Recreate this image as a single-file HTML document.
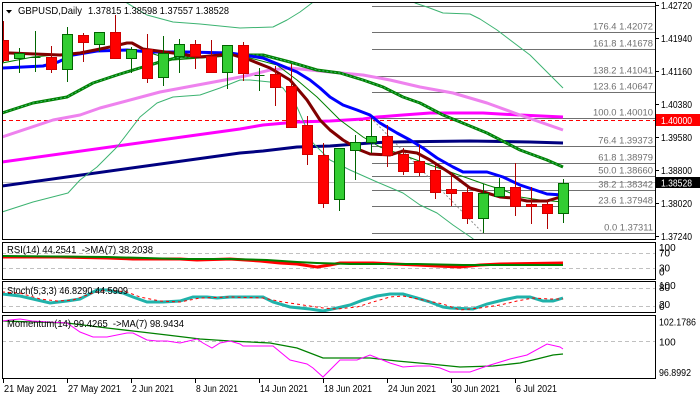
<!DOCTYPE html>
<html><head><meta charset="utf-8"><style>
html,body{margin:0;padding:0;background:#fff;}
svg{display:block;font-family:"Liberation Sans",sans-serif;}
text{white-space:pre;}
</style></head><body>
<svg width="700" height="400" viewBox="0 0 700 400" xmlns="http://www.w3.org/2000/svg">
<defs>
<clipPath id="cm"><rect x="3" y="3" width="652" height="236"/></clipPath>
<clipPath id="cr"><rect x="3" y="243" width="652" height="36"/></clipPath>
<clipPath id="cs"><rect x="3" y="282" width="652" height="30"/></clipPath>
<clipPath id="cmo"><rect x="3" y="316" width="652" height="62"/></clipPath>
</defs>
<rect width="700" height="400" fill="#fff"/>

<!-- MAIN PANEL -->
<g clip-path="url(#cm)">
  <!-- bid line -->
  <line x1="2" y1="182.5" x2="655" y2="182.5" stroke="#c0c0c0" stroke-width="1"/>
  <!-- fib lines -->
  <g stroke="#707070" stroke-width="1">
    <line x1="372" y1="6.5" x2="655" y2="6.5"/>
    <line x1="372" y1="32.5" x2="655" y2="32.5"/>
    <line x1="372" y1="49.5" x2="655" y2="49.5"/>
    <line x1="372" y1="76.5" x2="655" y2="76.5"/>
    <line x1="372" y1="92.5" x2="655" y2="92.5"/>
    <line x1="372" y1="118.5" x2="655" y2="118.5"/>
    <line x1="372" y1="146.5" x2="655" y2="146.5"/>
    <line x1="372" y1="163.5" x2="655" y2="163.5"/>
    <line x1="372" y1="176.5" x2="655" y2="176.5"/>
    <line x1="372" y1="190.5" x2="655" y2="190.5"/>
    <line x1="372" y1="206.5" x2="655" y2="206.5"/>
    <line x1="372" y1="233.5" x2="655" y2="233.5"/>
  </g>
  <line x1="371" y1="118" x2="483" y2="233" stroke="#909090" stroke-width="1" stroke-dasharray="2,2"/>
  <g fill="#707070" font-size="9.4" text-anchor="end">
    <text x="653" y="3">200.0 1.42709</text>
    <text x="653" y="29.5">176.4 1.42072</text>
    <text x="653" y="46.5">161.8 1.41678</text>
    <text x="653" y="73.5">138.2 1.41041</text>
    <text x="653" y="89.5">123.6 1.40647</text>
    <text x="653" y="115.5">100.0 1.40010</text>
    <text x="653" y="143.5">76.4 1.39373</text>
    <text x="653" y="160.5">61.8 1.38979</text>
    <text x="653" y="173.5">50.0 1.38660</text>
    <text x="653" y="187.5">38.2 1.38342</text>
    <text x="653" y="203.5">23.6 1.37948</text>
    <text x="653" y="230.5">0.0 1.37311</text>
  </g>
  <!-- red dashed 1.40000 -->
  <line x1="2" y1="120.5" x2="655" y2="120.5" stroke="#ff0000" stroke-width="1" stroke-dasharray="4,3"/>

  <!-- MAs -->
  <g fill="none" stroke-linejoin="round">
    <!-- navy -->
    <polyline stroke="#000080" stroke-width="3" points="2,186 240,153 263,151 297,147 330,146 370,143 390,142 470,141 530,142 563,143"/>
    <!-- magenta -->
    <polyline stroke="#ff00ff" stroke-width="3" points="2,162 240,129 263,125 297,122 330,121 363,119 377,117 403,115 430,113 483,113 500,114 520,115 563,117"/>
    <!-- violet -->
    <polyline stroke="#ee82ee" stroke-width="3" points="2,137 53,120 80,115 100,108 160,92 230,79 250,75 270,70 290,68 310,70 330,72 363,75 390,80 420,87 453,93 487,103 520,115 563,130"/>
    <!-- BB upper -->
    <polyline stroke="#3cb371" stroke-width="1" points="118,-2 127,3 147,15 173,22 200,24 240,28 273,27 287,20 300,12 312,3 316,-2"/>
    <polyline stroke="#3cb371" stroke-width="1" points="411,-2 415,3 427,7 443,13 470,14 480,19 497,30 530,55 563,88"/>
    <!-- BB lower -->
    <polyline stroke="#3cb371" stroke-width="1" points="2,212 33,202 68,193 80,180 97,167 117,147 140,117 157,103 173,97 200,95 220,88 240,80 250,80 270,82 283,88 297,107 313,143 330,160 350,170 377,182 403,193 420,205 437,213 453,225 472,238 480,245"/>
    <!-- thick green -->
    <polyline stroke="#008000" stroke-width="3" points="2,113 33,103 67,97 93,83 117,75 143,67 160,62 180,57 200,57 230,55 263,55 290,62 317,70 340,73 363,80 383,87 403,97 420,103 443,115 470,126 487,133 520,150 547,160 563,167"/>
    <polyline stroke="#3cb371" stroke-width="1" stroke-dasharray="2,2" points="2,113 33,103 67,97 93,83 117,75 143,67 160,62 180,57 200,57 230,55 263,55 290,62 317,70 340,73 363,80 383,87 403,97 420,103 443,115 470,126 487,133 520,150 547,160 563,167"/>
    <!-- thin dark green -->
    <polyline stroke="#008000" stroke-width="1" points="2,63 33,57 110,50 127,50 147,52 173,60 200,58 240,55 250,58 277,65 297,80 317,97 340,120 363,137 380,147 403,155 430,165 453,173 487,185 503,190 520,197 540,200 563,202"/>
    <!-- blue -->
    <polyline stroke="#0000ff" stroke-width="3" points="2,68 43,66 58,62 73,55 97,51 127,50 150,52 187,52 230,53 263,58 280,65 297,72 310,80 320,88 330,97 343,105 357,110 370,115 380,123 397,133 410,140 423,148 437,158 453,167 463,172 487,172 503,177 520,185 547,194 563,195"/>
    <!-- brown -->
    <polyline stroke="#800000" stroke-width="3" points="2,53 10,53 60,55 80,53 100,49 110,47 127,43 132,43 143,49 173,53 200,57 230,54 250,60 270,68 290,80 307,100 320,120 330,130 343,140 360,150 370,154 390,155 403,151 417,153 430,160 450,173 470,188 487,193 500,197 513,198 527,201 547,201 557,198 563,197"/>
  </g>

  <!-- CANDLES -->
  <g stroke-width="1" shape-rendering="crispEdges">
    <!-- wicks bear -->
    <g stroke="#b00000">
      <line x1="3.5" y1="21" x2="3.5" y2="62"/>
      <line x1="51.5" y1="46" x2="51.5" y2="73"/>
      <line x1="83.5" y1="33" x2="83.5" y2="62"/>
      <line x1="115.5" y1="15" x2="115.5" y2="58"/>
      <line x1="147.5" y1="34" x2="147.5" y2="83"/>
      <line x1="195.5" y1="40" x2="195.5" y2="69"/>
      <line x1="211.5" y1="40" x2="211.5" y2="72"/>
      <line x1="243.5" y1="42" x2="243.5" y2="81"/>
      <line x1="275.5" y1="66" x2="275.5" y2="106"/>
      <line x1="291.5" y1="64" x2="291.5" y2="128"/>
      <line x1="307.5" y1="116" x2="307.5" y2="165"/>
      <line x1="323.5" y1="143" x2="323.5" y2="208"/>
      <line x1="387.5" y1="125" x2="387.5" y2="167"/>
      <line x1="403.5" y1="148" x2="403.5" y2="175"/>
      <line x1="419.5" y1="145" x2="419.5" y2="176"/>
      <line x1="435.5" y1="165" x2="435.5" y2="199"/>
      <line x1="451.5" y1="173" x2="451.5" y2="206"/>
      <line x1="467.5" y1="188" x2="467.5" y2="224"/>
      <line x1="515.5" y1="163" x2="515.5" y2="216"/>
      <line x1="531.5" y1="187" x2="531.5" y2="224"/>
      <line x1="547.5" y1="201" x2="547.5" y2="229"/>
    </g>
    <!-- wicks bull -->
    <g stroke="#006400">
      <line x1="19.5" y1="48" x2="19.5" y2="73"/>
      <line x1="35.5" y1="31" x2="35.5" y2="72"/>
      <line x1="67.5" y1="27" x2="67.5" y2="82"/>
      <line x1="99.5" y1="32" x2="99.5" y2="52"/>
      <line x1="131.5" y1="47" x2="131.5" y2="73"/>
      <line x1="163.5" y1="36" x2="163.5" y2="86"/>
      <line x1="179.5" y1="39" x2="179.5" y2="73"/>
      <line x1="227.5" y1="45" x2="227.5" y2="89"/>
      <line x1="259.5" y1="68" x2="259.5" y2="91"/>
      <line x1="339.5" y1="148" x2="339.5" y2="211"/>
      <line x1="355.5" y1="135" x2="355.5" y2="180"/>
      <line x1="371.5" y1="118" x2="371.5" y2="153"/>
      <line x1="483.5" y1="184" x2="483.5" y2="233"/>
      <line x1="499.5" y1="178" x2="499.5" y2="196"/>
      <line x1="563.5" y1="179" x2="563.5" y2="223"/>
      <line x1="30.5" y1="57.5" x2="40.5" y2="57.5"/>
      <line x1="254.5" y1="75.5" x2="264.5" y2="75.5"/>
    </g>
    <!-- bear bodies -->
    <g fill="#ff0000" stroke="#d00000">
      <rect x="-1.5" y="40.5" width="10" height="20"/>
      <rect x="46.5" y="57.5" width="10" height="12"/>
      <rect x="78.5" y="35.5" width="10" height="7"/>
      <rect x="110.5" y="32.5" width="10" height="26"/>
      <rect x="142.5" y="49.5" width="10" height="29"/>
      <rect x="190.5" y="44.5" width="10" height="12"/>
      <rect x="206.5" y="56.5" width="10" height="16"/>
      <rect x="238.5" y="45.5" width="10" height="28"/>
      <rect x="270.5" y="74.5" width="10" height="13"/>
      <rect x="286.5" y="86.5" width="10" height="41"/>
      <rect x="302.5" y="125.5" width="10" height="29"/>
      <rect x="318.5" y="155.5" width="10" height="48"/>
      <rect x="382.5" y="136.5" width="10" height="19"/>
      <rect x="398.5" y="154.5" width="10" height="17"/>
      <rect x="414.5" y="161.5" width="10" height="11"/>
      <rect x="430.5" y="170.5" width="10" height="22"/>
      <rect x="446.5" y="189.5" width="10" height="4"/>
      <rect x="462.5" y="192.5" width="10" height="26"/>
      <rect x="510.5" y="187.5" width="10" height="19"/>
      <rect x="526.5" y="204.5" width="10" height="2"/>
      <rect x="542.5" y="204.5" width="10" height="9"/>
    </g>
    <!-- bull bodies -->
    <g fill="#32cd32" stroke="#006400">
      <rect x="14.5" y="53.5" width="10" height="5"/>
      <rect x="62.5" y="34.5" width="10" height="35"/>
      <rect x="94.5" y="32.5" width="10" height="12"/>
      <rect x="126.5" y="49.5" width="10" height="9"/>
      <rect x="158.5" y="53.5" width="10" height="24"/>
      <rect x="174.5" y="44.5" width="10" height="12"/>
      <rect x="222.5" y="45.5" width="10" height="27"/>
      <rect x="334.5" y="148.5" width="10" height="51"/>
      <rect x="350.5" y="142.5" width="10" height="8"/>
      <rect x="366.5" y="136.5" width="10" height="6"/>
      <rect x="478.5" y="193.5" width="10" height="25"/>
      <rect x="494.5" y="187.5" width="10" height="9"/>
      <rect x="558.5" y="183.5" width="10" height="30"/>
    </g>
  </g>
</g>
<!-- header -->
<polygon points="6,10 12,10 9,13.5" fill="#000"/>
<text x="18" y="14" font-size="10.5" textLength="64" lengthAdjust="spacingAndGlyphs">GBPUSD,Daily</text>
<text x="88" y="14" font-size="10.5" textLength="141" lengthAdjust="spacingAndGlyphs">1.37815 1.38598 1.37557 1.38528</text>

<!-- main border -->
<rect x="2.5" y="2.5" width="653" height="237" fill="none" stroke="#000" stroke-width="1"/>

<!-- price axis -->
<g stroke="#000" stroke-width="1">
  <line x1="656" y1="5.5" x2="659" y2="5.5"/>
  <line x1="656" y1="38.5" x2="659" y2="38.5"/>
  <line x1="656" y1="71.5" x2="659" y2="71.5"/>
  <line x1="656" y1="104.5" x2="659" y2="104.5"/>
  <line x1="656" y1="137.5" x2="659" y2="137.5"/>
  <line x1="656" y1="170.5" x2="659" y2="170.5"/>
  <line x1="656" y1="203.5" x2="659" y2="203.5"/>
  <line x1="656" y1="236.5" x2="659" y2="236.5"/>
</g>
<g font-size="10" fill="#000">
  <text x="661" y="9" textLength="31" lengthAdjust="spacingAndGlyphs">1.42720</text>
  <text x="661" y="42" textLength="31" lengthAdjust="spacingAndGlyphs">1.41940</text>
  <text x="661" y="75" textLength="31" lengthAdjust="spacingAndGlyphs">1.41160</text>
  <text x="661" y="108" textLength="31" lengthAdjust="spacingAndGlyphs">1.40380</text>
  <text x="661" y="141" textLength="31" lengthAdjust="spacingAndGlyphs">1.39580</text>
  <text x="661" y="174" textLength="31" lengthAdjust="spacingAndGlyphs">1.38800</text>
  <text x="661" y="207" textLength="31" lengthAdjust="spacingAndGlyphs">1.38020</text>
  <text x="661" y="240" textLength="31" lengthAdjust="spacingAndGlyphs">1.37240</text>
</g>
<rect x="656" y="114" width="44" height="12" fill="#ff0000"/>
<text x="661" y="124" font-size="10" fill="#fff" textLength="31" lengthAdjust="spacingAndGlyphs">1.40000</text>
<rect x="656" y="177" width="44" height="11" fill="#000"/>
<text x="661" y="186.5" font-size="10" fill="#fff" textLength="31" lengthAdjust="spacingAndGlyphs">1.38528</text>

<!-- RSI PANEL -->
<g clip-path="url(#cr)">
  <g stroke="#c0c0c0" stroke-dasharray="4,3">
    <line x1="2" y1="253.5" x2="655" y2="253.5"/>
    <line x1="2" y1="268.5" x2="655" y2="268.5"/>
  </g>
  <polyline fill="none" stroke="#ff0000" stroke-width="3" points="2,257 33,257 60,257 107,258 133,259 163,259 180,259 197,260 230,259 260,261 280,263 297,264 310,266 317,267 330,265 340,263 373,263 417,265 437,266 460,267 480,265 500,264 563,263"/>
  <polyline fill="none" stroke="#008000" stroke-width="2" points="2,256 107,257 180,259 230,259 267,260 297,262 317,263 350,264 417,264 463,265 563,265"/>
</g>
<rect x="2.5" y="242.5" width="653" height="37" fill="none" stroke="#000"/>
<text x="7" y="253" font-size="10" textLength="146" lengthAdjust="spacingAndGlyphs">RSI(14) 44.2541  -&gt;MA(7) 38.2038</text>
<g font-size="10">
  <text x="659" y="251">100</text>
  <text x="659" y="256.5">70</text>
  <text x="659" y="271.5">30</text>
  <text x="659" y="275.5">0</text>
</g>

<!-- STOCH PANEL -->
<g clip-path="url(#cs)">
  <g stroke="#c0c0c0" stroke-dasharray="4,3">
    <line x1="2" y1="288.5" x2="655" y2="288.5"/>
    <line x1="2" y1="306.5" x2="655" y2="306.5"/>
  </g>
  <polyline fill="none" stroke="#20b2aa" stroke-width="3" points="2,294 20,296 33,299 50,303 67,301 80,299 97,290 107,290 123,293 133,297 147,302 163,302 180,301 193,297 207,297 217,298 230,297 263,297 273,302 290,307 310,309 323,311 337,308 350,305 363,300 377,296 390,294 403,294 417,298 430,302 443,307 450,308 473,309 487,304 503,300 517,297 530,297 543,301 553,301 563,298"/>
  <polyline fill="none" stroke="#ff0000" stroke-width="1" stroke-dasharray="3,3" points="2,292 20,293 40,299 57,301 73,300 93,293 107,290 127,292 140,297 160,301 180,302 200,298 230,297 263,298 283,302 303,305 323,308 337,309 357,307 373,302 390,297 403,296 423,300 443,304 460,310 480,308 500,305 517,301 533,298 550,299 563,299"/>
</g>
<rect x="2.5" y="281.5" width="653" height="31" fill="none" stroke="#000"/>
<text x="7" y="294" font-size="10" textLength="121" lengthAdjust="spacingAndGlyphs">Stoch(5,3,3) 46.8290 44.5909</text>
<g font-size="10">
  <text x="659" y="289">100</text>
  <text x="659" y="291">80</text>
  <text x="659" y="308">20</text>
  <text x="659" y="310">0</text>
</g>

<!-- MOMENTUM PANEL -->
<g clip-path="url(#cmo)">
  <line x1="2" y1="341.5" x2="655" y2="341.5" stroke="#c0c0c0" stroke-dasharray="4,3"/>
  <polyline fill="none" stroke="#008000" stroke-width="1.3" points="2,321 67,323 107,328 133,331 167,335 200,339 230,341 270,343 297,348 323,358 347,358 370,358 397,361 430,364 460,367 493,366 520,363 537,359 553,355 563,354"/>
  <polyline fill="none" stroke="#ff00ff" stroke-width="1" points="2,321 10,320 20,319 32,321 67,323 80,332 93,337 107,337 127,333 133,333 147,340 157,341 167,341 180,343 197,339 203,343 212,348 220,343 230,341 240,344 243,346 273,346 290,360 307,364 313,368 323,377 340,360 357,360 370,355 380,359 390,363 403,367 417,366 430,366 440,368 450,372 470,372 487,366 510,359 527,355 547,344 560,347 563,349"/>
</g>
<rect x="2.5" y="315.5" width="653" height="63" fill="none" stroke="#000"/>
<text x="7" y="327" font-size="10" textLength="177" lengthAdjust="spacingAndGlyphs">Momentum(14) 99.4265  -&gt;MA(7) 98.9434</text>
<g font-size="10">
  <text x="659" y="325.5" textLength="37" lengthAdjust="spacingAndGlyphs">102.1786</text>
  <text x="659" y="345.5">100</text>
  <text x="659" y="376" textLength="32" lengthAdjust="spacingAndGlyphs">96.8992</text>
</g>

<!-- X AXIS -->
<g stroke="#000">
  <line x1="3.5" y1="378" x2="3.5" y2="383"/>
  <line x1="67.5" y1="378" x2="67.5" y2="383"/>
  <line x1="131.5" y1="378" x2="131.5" y2="383"/>
  <line x1="195.5" y1="378" x2="195.5" y2="383"/>
  <line x1="259.5" y1="378" x2="259.5" y2="383"/>
  <line x1="323.5" y1="378" x2="323.5" y2="383"/>
  <line x1="387.5" y1="378" x2="387.5" y2="383"/>
  <line x1="451.5" y1="378" x2="451.5" y2="383"/>
  <line x1="515.5" y1="378" x2="515.5" y2="383"/>
</g>
<g font-size="10">
  <text x="4" y="392" textLength="53" lengthAdjust="spacingAndGlyphs">21 May 2021</text>
  <text x="68" y="392" textLength="53" lengthAdjust="spacingAndGlyphs">27 May 2021</text>
  <text x="132" y="392" textLength="42" lengthAdjust="spacingAndGlyphs">2 Jun 2021</text>
  <text x="196" y="392" textLength="42" lengthAdjust="spacingAndGlyphs">8 Jun 2021</text>
  <text x="260" y="392" textLength="48" lengthAdjust="spacingAndGlyphs">14 Jun 2021</text>
  <text x="324" y="392" textLength="48" lengthAdjust="spacingAndGlyphs">18 Jun 2021</text>
  <text x="388" y="392" textLength="48" lengthAdjust="spacingAndGlyphs">24 Jun 2021</text>
  <text x="452" y="392" textLength="48" lengthAdjust="spacingAndGlyphs">30 Jun 2021</text>
  <text x="516" y="392" textLength="41" lengthAdjust="spacingAndGlyphs">6 Jul 2021</text>
</g>
</svg>
</body></html>
